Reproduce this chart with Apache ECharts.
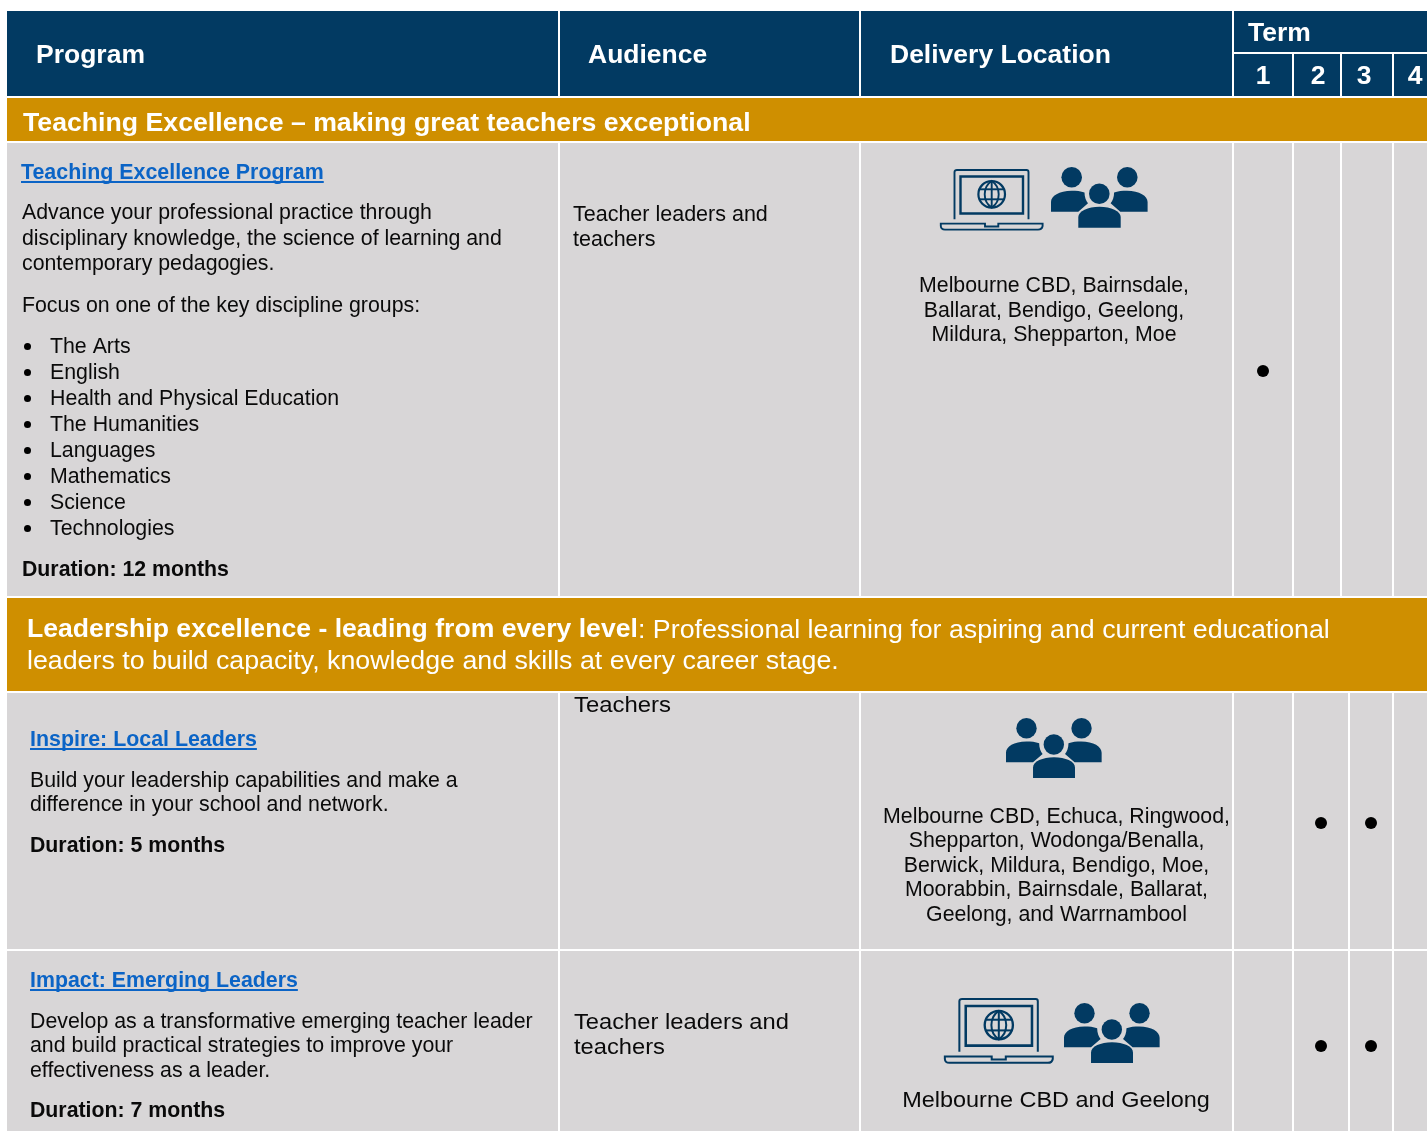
<!DOCTYPE html>
<html>
<head>
<meta charset="utf-8">
<style>html,body{margin:0;padding:0;background:#fff}#c{width:1427px;height:1131px}</style>
<script src="https://cdn.jsdelivr.net/npm/echarts@6/dist/echarts.min.js"></script>
</head>
<body>
<div id="c"></div>
<script>
// ---------- content ----------
const headers = ['Program', 'Audience', 'Delivery Location'];
const termTitle = 'Term';
const terms = ['1', '2', '3', '4'];
const section1 = 'Teaching Excellence – making great teachers exceptional';
const section2Bold = 'Leadership excellence - leading from every level';
const section2Rest = ': Professional learning for aspiring and current educational';
const section2Line2 = 'leaders to build capacity, knowledge and skills at every career stage.';

const program1Title = 'Teaching Excellence Program';
const program1Desc = ['Advance your professional practice through', 'disciplinary knowledge, the science of learning and', 'contemporary pedagogies.'];
const program1Focus = 'Focus on one of the key discipline groups:';
const disciplines = ['The Arts', 'English', 'Health and Physical Education', 'The Humanities', 'Languages', 'Mathematics', 'Science', 'Technologies'];
const program1Duration = 'Duration: 12 months';
const program1Audience = ['Teacher leaders and', 'teachers'];
const program1Locations = ['Melbourne CBD, Bairnsdale,', 'Ballarat, Bendigo, Geelong,', 'Mildura, Shepparton, Moe'];
const program1Terms = [1];

const program2Title = 'Inspire: Local Leaders';
const program2Desc = ['Build your leadership capabilities and make a', 'difference in your school and network.'];
const program2Duration = 'Duration: 5 months';
const program2Audience = ['Teachers'];
const program2Locations = ['Melbourne CBD, Echuca, Ringwood,', 'Shepparton, Wodonga/Benalla,', 'Berwick, Mildura, Bendigo, Moe,', 'Moorabbin, Bairnsdale, Ballarat,', 'Geelong, and Warrnambool'];
const program2Terms = [2, 3];

const program3Title = 'Impact: Emerging Leaders';
const program3Desc = ['Develop as a transformative emerging teacher leader', 'and build practical strategies to improve your', 'effectiveness as a leader.'];
const program3Duration = 'Duration: 7 months';
const program3Audience = ['Teacher leaders and', 'teachers'];
const program3Locations = ['Melbourne CBD and Geelong'];
const program3Terms = [2, 3];

// ---------- styling & layout ----------
const NAVY = '#023A62', GOLD = '#CF8F00', GREY = '#D8D6D7', LINK = '#0B64C6', INK = '#0a0a0a', WHITE = '#ffffff';
const FAMILY = '"Liberation Sans", Arial, sans-serif';

const measureCtx = document.createElement('canvas').getContext('2d');
function textWidth(text, size, weight) {
  measureCtx.font = weight + ' ' + size + 'px ' + FAMILY;
  return measureCtx.measureText(text).width;
}
function fit(text, width, weight) { return 100 * width / textWidth(text, 100, weight); }

const SIZE = {
  head: fit('Delivery Location', 221, 'bold'),
  sec1: fit(section1, 728, 'bold'),
  sec2b: fit(section2Bold, 611, 'bold'),
  sec2n: fit(section2Line2, 812, 'normal'),
  link1: fit(program1Title, 303, 'bold'),
  body1: fit(program1Desc[1], 480, 'normal'),
  dur1: fit(program1Duration, 207, 'bold'),
  aud1: fit(program1Audience[0], 195, 'normal'),
  loc1: fit(program1Locations[0], 270, 'normal'),
  link2: fit(program2Title, 227, 'bold'),
  body2: fit(program2Desc[0], 428, 'normal'),
  aud2: fit(program2Audience[0], 97, 'normal'),
  loc2: fit(program2Locations[0], 347, 'normal'),
  link3: fit(program3Title, 268, 'bold'),
  body3: fit(program3Desc[0], 503, 'normal'),
  aud3: fit(program3Audience[0], 215, 'normal'),
  loc3: fit(program3Locations[0], 308, 'normal')
};
// glyphs in the reference are drawn slightly wider than their height: keep the fitted width, reduce the height
const SQUEEZE = 0.94;

const cells = [];
function cell(x0, y0, x1, y1, color) { cells.push([x0, y0, x1, y1, color]); }
// header
cell(7, 11, 558, 96, NAVY); cell(560, 11, 859, 96, NAVY); cell(861, 11, 1232, 96, NAVY);
cell(1234, 11, 1427, 52, NAVY);
cell(1234, 54, 1292, 96, NAVY); cell(1294, 54, 1340, 96, NAVY); cell(1342, 54, 1392, 96, NAVY); cell(1394, 54, 1427, 96, NAVY);
// section bands
cell(7, 98, 1427, 141, GOLD); cell(7, 598, 1427, 691, GOLD);
// body rows
const rowEdges = [[143, 596, 1340, 1342], [693, 949, 1348, 1350], [951, 1131, 1348, 1350]];
rowEdges.forEach(function (r) {
  [[7, 558], [560, 859], [861, 1232], [1234, 1292], [1294, r[2]], [r[3], 1392], [1394, 1427]].forEach(function (c) {
    cell(c[0], r[0], c[1], r[1], GREY);
  });
});

const texts = [];
function put(t, x, y, size, weight, color, align, underline, squeeze) {
  texts.push({ t: t, x: x, y: y, size: size, weight: weight, color: color, align: align || 'left', underline: underline, k: squeeze || 1 });
}
function putLines(lines, x, ys, size, weight, color, align, squeeze) {
  lines.forEach(function (l, i) { put(l, x, ys[i], size, weight, color, align, false, squeeze); });
}
[36, 588, 890].forEach(function (x, i) { put(headers[i], x, 54.5, SIZE.head, 'bold', WHITE, 'left', false, SQUEEZE); });
put(termTitle, 1248, 33, SIZE.head, 'bold', WHITE, 'left', false, SQUEEZE);
[1263, 1318, 1364, 1415].forEach(function (x, i) { put(terms[i], x, 76, SIZE.head, 'bold', WHITE, 'center', false, SQUEEZE); });
put(section1, 23, 122, SIZE.sec1, 'bold', WHITE, 'left', false, SQUEEZE);
put(section2Bold, 27, 629, SIZE.sec2b, 'bold', WHITE, 'left', false, SQUEEZE);
put(section2Rest, 638, 629, SIZE.sec2n, 'normal', WHITE, 'left', false, SQUEEZE);
put(section2Line2, 27, 660, SIZE.sec2n, 'normal', WHITE, 'left', false, SQUEEZE);

put(program1Title, 21, 172, SIZE.link1, 'bold', LINK, 'left', true);
putLines(program1Desc, 22, [212, 238, 263], SIZE.body1, 'normal', INK);
put(program1Focus, 22, 305, SIZE.body1, 'normal', INK);
const listY = [346, 372, 398, 424, 450, 476, 502, 528];
putLines(disciplines, 50, listY, SIZE.body1, 'normal', INK);
put(program1Duration, 22, 569, SIZE.dur1, 'bold', INK);
putLines(program1Audience, 573, [214, 239], SIZE.aud1, 'normal', INK);
putLines(program1Locations, 1054, [285, 310, 334], SIZE.loc1, 'normal', INK, 'center');

put(program2Title, 30, 739, SIZE.link2, 'bold', LINK, 'left', true);
putLines(program2Desc, 30, [780, 804], SIZE.body2, 'normal', INK);
put(program2Duration, 30, 845, SIZE.dur1, 'bold', INK);
putLines(program2Audience, 574, [704.5], SIZE.aud2, 'normal', INK, 'left', SQUEEZE);
putLines(program2Locations, 1056.5, [816, 840, 865, 889, 914], SIZE.loc2, 'normal', INK, 'center');

put(program3Title, 30, 980, SIZE.link3, 'bold', LINK, 'left', true);
putLines(program3Desc, 30, [1021, 1045, 1070], SIZE.body3, 'normal', INK);
put(program3Duration, 30, 1110, SIZE.dur1, 'bold', INK);
putLines(program3Audience, 574, [1021.5, 1046.5], SIZE.aud3, 'normal', INK, 'left', SQUEEZE);
putLines(program3Locations, 1056, [1099.5], SIZE.loc3, 'normal', INK, 'center', SQUEEZE);

// term dot centres per row
const dotX = { 1: 1263, 2: 1321, 3: 1371, 4: 1412 };
const termDots = [];
[[program1Terms, 371], [program2Terms, 823], [program3Terms, 1046]].forEach(function (r) {
  r[0].forEach(function (t) { termDots.push([dotX[t], r[1]]); });
});
const bullets = listY.map(function (y) { return [27.5, y + 0.5]; });

// icons: [kind, left, top, scaleX, scaleY]
const icons = [
  ['laptop', 940, 169, 1, 1],
  ['people', 1051, 167, 1, 1],
  ['people', 1006, 718, 0.99, 0.99],
  ['laptop', 944, 998, 1.06, 1.07],
  ['people', 1064, 1003, 0.99, 0.99]
];
function pth(d, x, y, w, h, style) {
  return { type: 'path', shape: { pathData: d, layout: 'cover', x: x, y: y, width: w, height: h }, style: style };
}
function peopleChildren() {
  const f = { fill: NAVY };
  return [
    { type: 'circle', shape: { cx: 20.7, cy: 10.3, r: 10.3 }, style: f },
    { type: 'circle', shape: { cx: 76.3, cy: 10.3, r: 10.3 }, style: f },
    { type: 'circle', shape: { cx: 48.3, cy: 26.7, r: 10.3 }, style: f },
    pth('M0 44.7 L0 35 C0 29 8 23.7 20.7 23.7 C25 23.7 30 24 33.5 25.5 C33.5 30 35 34 37 36.3 L27.3 44.7 Z', 0, 23.7, 37, 21, f),
    pth('M96.6 44.7 L96.6 35 C96.6 29 88.6 23.7 75.9 23.7 C71.6 23.7 66.6 24 63.1 25.5 C63.1 30 61.6 34 59.6 36.3 L69.3 44.7 Z', 59.6, 23.7, 37, 21, f),
    pth('M27.3 60.7 L27.3 50 C27.3 44 37 39.7 48.5 39.7 C60 39.7 69.7 44 69.7 50 L69.7 60.7 Z', 27.3, 39.7, 42.4, 21, f)
  ];
}
function laptopChildren() {
  const s = { fill: 'none', stroke: NAVY, lineWidth: 1.9 };
  const cx = 51.7, cy = 25.3, r = 13.3;
  return [
    pth('M14.5 50.3 L14.5 3 Q14.5 1 17 1 L86.5 1 Q88.5 1 88.5 3 L88.5 50.3', 14.5, 1, 74, 49.3, s),
    { type: 'rect', shape: { x: 20.5, y: 7.5, width: 62.5, height: 37 }, style: { fill: 'none', stroke: NAVY, lineWidth: 2.4 } },
    pth('M0.8 54.6 L45 54.6 L45 57.5 L58.3 57.5 L58.3 54.6 L102.6 54.6 L102.6 57 Q102 60.6 98 60.6 L5 60.6 Q1 60.6 0.8 57 Z', 0.8, 54.6, 101.8, 6, s),
    { type: 'circle', shape: { cx: cx, cy: cy, r: r }, style: { fill: 'none', stroke: NAVY, lineWidth: 2.2 } },
    pth('M51.7 12 C42.5 18 42.5 32.6 51.7 38.6 C60.9 32.6 60.9 18 51.7 12 Z', 44.7, 12, 14, 26.6, s),
    { type: 'line', shape: { x1: cx, y1: cy - r, x2: cx, y2: cy + r }, style: s },
    { type: 'line', shape: { x1: cx - 12, y1: cy - 5, x2: cx + 12, y2: cy - 5 }, style: s },
    { type: 'line', shape: { x1: cx - 12, y1: cy + 5, x2: cx + 12, y2: cy + 5 }, style: s }
  ];
}

const chart = echarts.init(document.getElementById('c'), null, { renderer: 'canvas' });
chart.setOption({
  animation: false,
  backgroundColor: WHITE,
  grid: { left: 0, right: 0, top: 0, bottom: 0 },
  xAxis: { type: 'value', min: 0, max: 1427, show: false },
  yAxis: { type: 'value', min: 0, max: 1131, inverse: true, show: false },
  tooltip: { show: false },
  series: [
    {
      type: 'custom', silent: true, clip: false, z: 1,
      encode: { x: [0, 2], y: [1, 3] },
      data: cells,
      renderItem: function (p, api) {
        const a = api.coord([api.value(0), api.value(1)]);
        const b = api.coord([api.value(2), api.value(3)]);
        return { type: 'rect', shape: { x: a[0], y: a[1], width: b[0] - a[0], height: b[1] - a[1] }, style: { fill: cells[p.dataIndex][4] } };
      }
    },
    {
      type: 'custom', silent: true, clip: false, z: 3,
      data: texts.map(function (t) { return [t.x, t.y]; }),
      renderItem: function (p, api) {
        const t = texts[p.dataIndex];
        const c = api.coord([api.value(0), api.value(1)]);
        const children = [{
          type: 'group', x: c[0], y: c[1] + t.size * 0.06, scaleX: 1 / t.k,
          children: [{
            type: 'text',
            style: { text: t.t, x: 0, y: 0, fill: t.color, fontFamily: FAMILY, fontSize: t.size * t.k, fontWeight: t.weight, align: t.align, verticalAlign: 'middle' }
          }]
        }];
        if (t.underline) {
          children.push({ type: 'rect', shape: { x: c[0], y: c[1] + 9, width: textWidth(t.t, t.size, t.weight), height: 2 }, style: { fill: t.color } });
        }
        return { type: 'group', children: children };
      }
    },
    {
      type: 'custom', silent: true, clip: false, z: 2,
      data: icons.map(function (i) { return [i[1], i[2]]; }),
      renderItem: function (p, api) {
        const ic = icons[p.dataIndex];
        const c = api.coord([api.value(0), api.value(1)]);
        return { type: 'group', x: c[0], y: c[1], scaleX: ic[3], scaleY: ic[4], children: ic[0] === 'people' ? peopleChildren() : laptopChildren() };
      }
    },
    {
      name: 'Term', type: 'scatter', silent: true, z: 4, symbol: 'circle', symbolSize: 12,
      itemStyle: { color: '#000', opacity: 1 }, data: termDots
    },
    {
      name: 'Bullets', type: 'scatter', silent: true, z: 4, symbol: 'circle', symbolSize: 7,
      itemStyle: { color: '#000', opacity: 1 }, data: bullets
    }
  ]
});
</script>
</body>
</html>
